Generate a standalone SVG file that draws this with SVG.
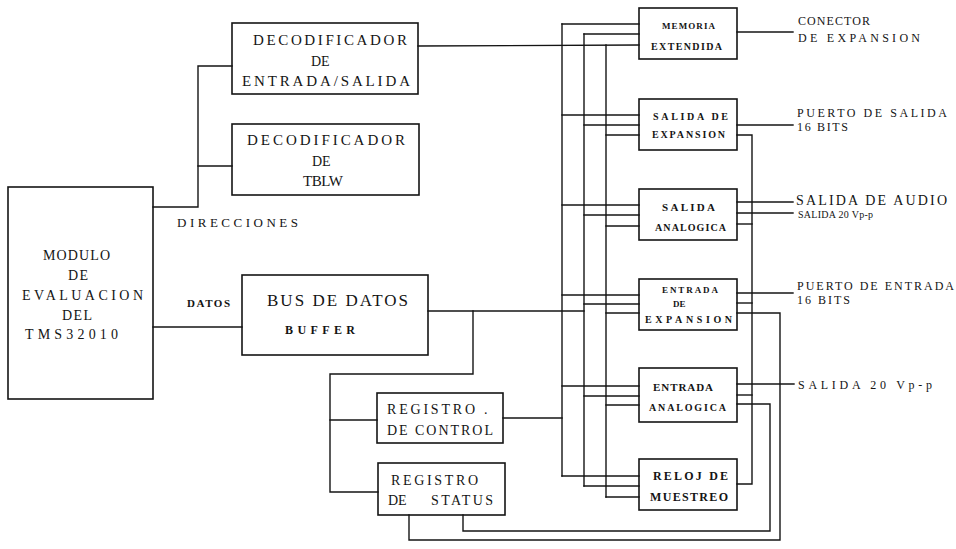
<svg xmlns="http://www.w3.org/2000/svg" width="956" height="549" viewBox="0 0 956 549">
<style>
.b{fill:none;stroke:#141414;stroke-width:1.6}
.c{fill:none;stroke:#141414;stroke-width:1.4;stroke-linecap:square}
text{font-family:"Liberation Serif","DejaVu Serif",serif;fill:#141414}
.t15{font-size:15px}
.t14{font-size:14px}
.t13{font-size:13px}
.t12{font-size:12px}
.s{font-size:10px;font-weight:bold}
</style>
<rect width="956" height="549" fill="#ffffff"/>
<g id="connectors">
<polyline class="c" points="153,207 198,207 198,66 232,66"/>
<line class="c" x1="198" y1="166" x2="232" y2="166"/>
<line class="c" x1="153" y1="327" x2="242" y2="327"/>
<line class="c" x1="418" y1="46" x2="639" y2="45"/>
<line class="c" x1="606" y1="45" x2="606" y2="497"/>
<line class="c" x1="562" y1="24" x2="562" y2="476"/>
<line class="c" x1="584" y1="34" x2="584" y2="486"/>
<line class="c" x1="428" y1="311" x2="584" y2="311"/>
<line class="c" x1="562" y1="24" x2="639" y2="24"/>
<line class="c" x1="584" y1="34" x2="639" y2="34"/>
<line class="c" x1="562" y1="115" x2="639" y2="115"/>
<line class="c" x1="584" y1="125" x2="639" y2="125"/>
<line class="c" x1="606" y1="135" x2="639" y2="135"/>
<line class="c" x1="562" y1="205" x2="639" y2="205"/>
<line class="c" x1="584" y1="215" x2="639" y2="215"/>
<line class="c" x1="606" y1="226" x2="639" y2="226"/>
<line class="c" x1="562" y1="295" x2="639" y2="295"/>
<line class="c" x1="584" y1="304" x2="639" y2="304"/>
<line class="c" x1="606" y1="313" x2="639" y2="313"/>
<line class="c" x1="562" y1="386" x2="639" y2="386"/>
<line class="c" x1="584" y1="396" x2="639" y2="396"/>
<line class="c" x1="606" y1="405" x2="639" y2="405"/>
<line class="c" x1="562" y1="476" x2="639" y2="476"/>
<line class="c" x1="584" y1="486" x2="639" y2="486"/>
<line class="c" x1="606" y1="497" x2="639" y2="497"/>
<polyline class="c" points="473,311 473,374 330,374 330,492 378,492"/>
<line class="c" x1="330" y1="420" x2="377" y2="420"/>
<line class="c" x1="503" y1="418" x2="562" y2="418"/>
<line class="c" x1="737" y1="32" x2="793" y2="32"/>
<line class="c" x1="737" y1="125" x2="793" y2="125"/>
<line class="c" x1="737" y1="202" x2="793" y2="202"/>
<line class="c" x1="737" y1="213" x2="793" y2="213"/>
<line class="c" x1="737" y1="293" x2="793" y2="293"/>
<line class="c" x1="737" y1="384" x2="794" y2="384"/>
<polyline class="c" points="737,135 752,135 752,484 737,484"/>
<line class="c" x1="737" y1="224" x2="752" y2="224"/>
<line class="c" x1="737" y1="303" x2="752" y2="303"/>
<line class="c" x1="737" y1="395" x2="752" y2="395"/>
<polyline class="c" points="737,313 780,313 780,540 409,540 409,515"/>
<polyline class="c" points="737,404 770,404 770,531 463,531 463,515"/>
</g>
<g id="modulo">
<rect class="b" x="8" y="187" width="145" height="212"/>
<text class="t14" x="43" y="260" textLength="67" lengthAdjust="spacing">MODULO</text>
<text class="t14" x="68" y="280" textLength="20" lengthAdjust="spacing">DE</text>
<text class="t14" x="22" y="300" textLength="121" lengthAdjust="spacing">EVALUACION</text>
<text class="t14" x="62" y="320" textLength="30" lengthAdjust="spacing">DEL</text>
<text class="t14" x="25" y="339" textLength="93" lengthAdjust="spacing">TMS32010</text>
</g>
<g id="dec-es">
<rect class="b" x="232" y="23" width="186" height="71"/>
<text class="t15" x="253" y="45" textLength="154" lengthAdjust="spacing">DECODIFICADOR</text>
<text class="t14" x="311" y="66">DE</text>
<text class="t15" x="242" y="86" textLength="168" lengthAdjust="spacing">ENTRADA/SALIDA</text>
</g>
<g id="dec-tblw">
<rect class="b" x="232" y="124" width="187" height="71"/>
<text class="t15" x="247" y="145" textLength="158" lengthAdjust="spacing">DECODIFICADOR</text>
<text class="t14" x="312" y="166">DE</text>
<text class="t15" x="303" y="186" textLength="40" lengthAdjust="spacing">TBLW</text>
</g>
<g id="labels-left">
<text class="t13" x="177" y="227" textLength="121" lengthAdjust="spacing">DIRECCIONES</text>
<text x="187" y="307" font-size="11" font-weight="bold" textLength="43" lengthAdjust="spacing">DATOS</text>
</g>
<g id="bus-datos">
<rect class="b" x="242" y="275" width="186" height="80"/>
<text x="267" y="306" font-size="17" textLength="141" lengthAdjust="spacing">BUS DE DATOS</text>
<text x="285" y="334" font-size="12" font-weight="bold" textLength="70" lengthAdjust="spacing">BUFFER</text>
</g>
<g id="reg-control">
<rect class="b" x="377" y="393" width="126" height="50"/>
<text class="t14" x="387" y="414" textLength="88" lengthAdjust="spacing">REGISTRO</text>
<text class="t14" x="484" y="414">.</text>
<text class="t14" x="387" y="435" textLength="106" lengthAdjust="spacing">DE CONTROL</text>
</g>
<g id="reg-status">
<rect class="b" x="378" y="463" width="127" height="52"/>
<text class="t14" x="391" y="485" textLength="87" lengthAdjust="spacing">REGISTRO</text>
<text class="t14" x="388" y="505">DE</text>
<text class="t14" x="431" y="505" textLength="62" lengthAdjust="spacing">STATUS</text>
</g>
<g id="memoria">
<rect class="b" x="639" y="8" width="98" height="51"/>
<text x="662" y="28.5" font-size="9" font-weight="bold" textLength="53" lengthAdjust="spacing">MEMORIA</text>
<text class="s" x="651" y="50" textLength="71" lengthAdjust="spacing">EXTENDIDA</text>
</g>
<g id="salida-expansion">
<rect class="b" x="639" y="99" width="98" height="51"/>
<text class="s" x="653" y="120" textLength="75" lengthAdjust="spacing">SALIDA DE</text>
<text class="s" x="652" y="138" textLength="73" lengthAdjust="spacing">EXPANSION</text>
</g>
<g id="salida-analogica">
<rect class="b" x="639" y="189" width="98" height="51"/>
<text x="662" y="210.5" font-size="11" font-weight="bold" textLength="53" lengthAdjust="spacing">SALIDA</text>
<text class="s" x="655" y="231" textLength="71" lengthAdjust="spacing">ANALOGICA</text>
</g>
<g id="entrada-expansion">
<rect class="b" x="639" y="279" width="98" height="51"/>
<text x="662" y="293" font-size="9" font-weight="bold" textLength="56" lengthAdjust="spacing">ENTRADA</text>
<text x="673" y="306.5" font-size="9" font-weight="bold">DE</text>
<text x="645" y="323" font-size="10" font-weight="bold" textLength="87" lengthAdjust="spacing">EXPANSION</text>
</g>
<g id="entrada-analogica">
<rect class="b" x="639" y="368" width="98" height="54"/>
<text x="653" y="391" font-size="11" font-weight="bold" textLength="60" lengthAdjust="spacing">ENTRADA</text>
<text class="s" x="649" y="411" textLength="77" lengthAdjust="spacing">ANALOGICA</text>
</g>
<g id="reloj">
<rect class="b" x="639" y="459" width="98" height="51"/>
<text x="653" y="480" font-size="12" font-weight="bold" textLength="75" lengthAdjust="spacing">RELOJ DE</text>
<text x="650" y="501" font-size="12" font-weight="bold" textLength="78" lengthAdjust="spacing">MUESTREO</text>
</g>
<g id="labels-right">
<text class="t12" x="798" y="25" textLength="72" lengthAdjust="spacing">CONECTOR</text>
<text class="t12" x="798" y="42" textLength="122" lengthAdjust="spacing">DE EXPANSION</text>
<text class="t12" x="797" y="117" textLength="150" lengthAdjust="spacing">PUERTO DE SALIDA</text>
<text class="t12" x="797" y="131" textLength="51" lengthAdjust="spacing">16 BITS</text>
<text class="t14" x="796" y="205" textLength="151" lengthAdjust="spacing">SALIDA DE AUDIO</text>
<text x="798" y="217.5" font-size="10" textLength="75" lengthAdjust="spacing">SALIDA 20 Vp-p</text>
<text class="t12" x="797" y="290" textLength="157" lengthAdjust="spacing">PUERTO DE ENTRADA</text>
<text class="t12" x="797" y="304" textLength="53" lengthAdjust="spacing">16 BITS</text>
<text class="t12" x="798" y="388.5" textLength="134" lengthAdjust="spacing">SALIDA 20 Vp-p</text>
</g>
</svg>
